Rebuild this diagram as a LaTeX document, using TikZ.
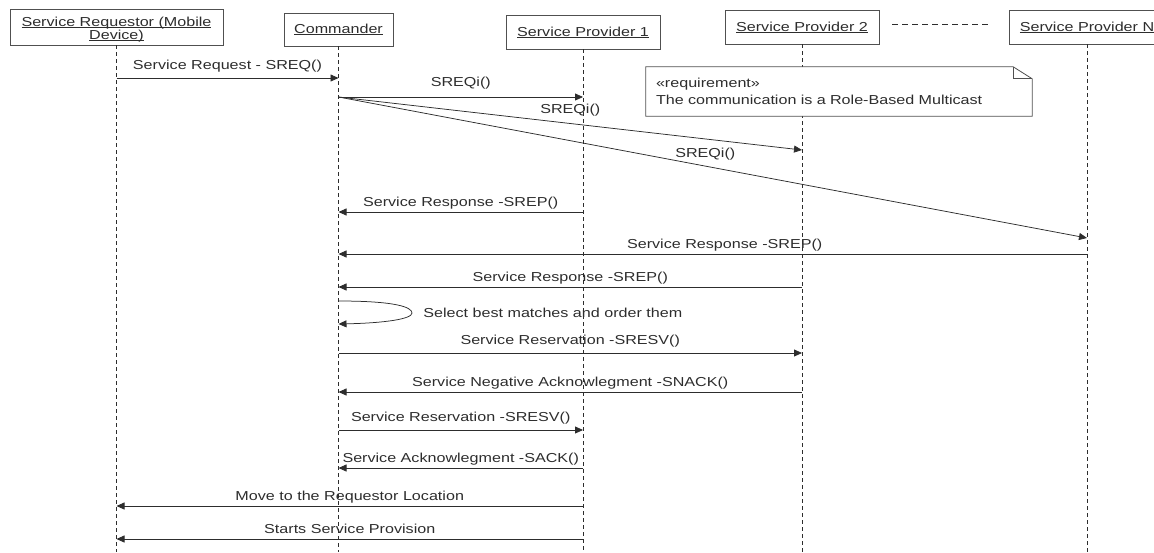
\documentclass[tikz,border=0pt]{standalone}
\usepackage{fontspec}
\setmainfont{Liberation Sans}[FakeStretch=1.24]
\usetikzlibrary{arrows.meta,calc}
\definecolor{ink}{RGB}{45,45,45}
\definecolor{boxline}{RGB}{80,80,80}
\newcommand\hul[1]{\setbox0\hbox{#1}\rlap{\rule[-1.4pt]{\wd0}{0.6pt}}\box0}
\begin{document}
\begin{tikzpicture}[x=1pt,y=-1pt,
  every node/.style={font=\fontsize{13}{16}\selectfont, text=ink},
  head/.style={draw=boxline, line width=0.8pt, inner sep=0pt, fill=white, align=center},
  life/.style={draw=ink, line width=0.7pt, dash pattern=on 4pt off 3pt},
  msg/.style={draw=ink, line width=0.75pt, -{Triangle[length=8pt,width=7pt]}},
  lbl/.style={anchor=base, yshift=5.5pt, inner sep=0pt},
  lblr/.style={anchor=base, yshift=8.5pt, inner sep=0pt},
  hdash/.style={draw=ink, line width=0.7pt, dash pattern=on 6pt off 4pt},
]
\useasboundingbox (0,0) rectangle (1154,552);
% lifeline heads
\node[head, minimum width=213pt, minimum height=36pt, font=\fontsize{13}{12.5}\selectfont] (req) at (116.5,27)
  {\raisebox{-3pt}[\height][\depth]{\begin{tabular}{@{}c@{}}\hul{Service Requestor (Mobile}\\\hul{Device)}\end{tabular}}};
\node[head, minimum width=109pt, minimum height=33pt] (cmd) at (338.5,29.5) {\hul{Commander}};
\node[head, minimum width=154pt, minimum height=34pt] (sp1) at (583,32) {\hul{Service Provider 1}};
\node[head, minimum width=154pt, minimum height=34pt] (sp2) at (802,27) {\hul{Service Provider 2}};
\node[head, minimum width=156pt, minimum height=34pt] (spn) at (1087,27) {\hul{Service Provider N}};
\draw[hdash] ([xshift=13pt,yshift=3pt]sp2.east) -- ([xshift=-19pt,yshift=3pt]spn.west);
% lifelines
\draw[life] (req.south) -- (req.south |- 0,552);
\draw[life] (cmd.south) -- (cmd.south |- 0,552);
\draw[life] (sp1.south) -- (sp1.south |- 0,552);
\draw[life] (sp2.south) -- (sp2.south |- 0,552);
\draw[life] (spn.south) -- (spn.south |- 0,552);
% note
\node[fill=white, minimum width=386pt, minimum height=49pt, text width=366pt, inner xsep=10pt, inner ysep=0pt, align=left, font=\fontsize{13}{16.5}\selectfont] (note) at (839,91.5) {«requirement»\\The communication is a Role-Based Multicast};
\draw[draw=boxline, line width=0.8pt] (note.north west) -- ([xshift=-19pt]note.north east) -- ([yshift=-12pt]note.north east) -- (note.south east) -- (note.south west) -- cycle;
\draw[draw=boxline, line width=0.8pt] ([xshift=-19pt]note.north east) -- ++(0,12) -- ++(19,0);
% messages
\draw[msg] (req |- 0,78) -- node[lblr]{Service Request - SREQ()} (cmd |- 0,78);
\draw[msg] (cmd |- 0,97) -- node[lblr, yshift=2pt]{SREQi()} (sp1 |- 0,97);
\draw[msg] (cmd |- 0,97) -- node[lblr, yshift=2pt]{SREQi()} (sp2 |- 0,150);
\draw[msg] (cmd |- 0,97) -- node[pos=0.49, lblr]{SREQi()} (spn |- 0,238);
\draw[msg] (sp1 |- 0,212) -- node[lbl]{Service Response -SREP()} (cmd |- 0,212);
\draw[msg] (spn |- 0,254) -- node[pos=0.484, lbl]{Service Response -SREP()} (cmd |- 0,254);
\draw[msg] (sp2 |- 0,287) -- node[lbl]{Service Response -SREP()} (cmd |- 0,287);
\draw[msg] (cmd |- 0,301) .. controls (395,301) and (412,307) .. (412,313)
  node[anchor=west, inner sep=0pt, xshift=11pt] (selLbl) {Select best matches and order them}
  .. controls (412,319) and (385,323) .. (cmd |- 0,324);
\draw[msg] (cmd |- 0,353) -- node[lblr]{Service Reservation -SRESV()} (sp2 |- 0,353);
\draw[msg] (sp2 |- 0,392) -- node[lbl]{Service Negative Acknowlegment -SNACK()} (cmd |- 0,392);
\draw[msg] (cmd |- 0,430) -- node[lblr]{Service Reservation -SRESV()} (sp1 |- 0,430);
\draw[msg] (sp1 |- 0,468) -- node[lbl]{Service Acknowlegment -SACK()} (cmd |- 0,468);
\draw[msg] (sp1 |- 0,506) -- node[lbl]{Move to the Requestor Location} (req |- 0,506);
\draw[msg] (sp1 |- 0,539) -- node[lbl]{Starts Service Provision} (req |- 0,539);
\end{tikzpicture}
\end{document}
